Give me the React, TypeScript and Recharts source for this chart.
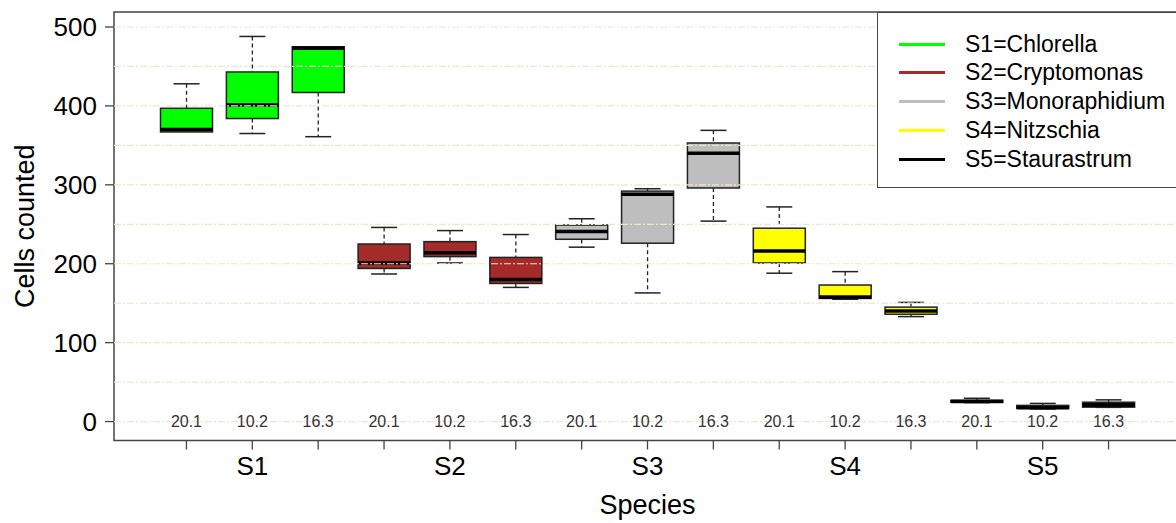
import React from 'react';
import { ComposedChart, XAxis, YAxis, Bar, Scatter, ReferenceLine, ReferenceArea } from 'recharts';

// box positions 1..15, three temperatures per species
const positions = [1, 2, 3, 4, 5, 6, 7, 8, 9, 10, 11, 12, 13, 14, 15];
const speciesCodes = ['S1', 'S2', 'S3', 'S4', 'S5'];
const temperatureLabels = ['20.1', '10.2', '16.3'];
const speciesColors = ['#00FF00', '#A52A2A', '#BEBEBE', '#FFFF00', '#000000'];
const legendLabels = ['S1=Chlorella', 'S2=Cryptomonas', 'S3=Monoraphidium', 'S4=Nitzschia', 'S5=Staurastrum'];

const whiskerLow = [367, 365, 361, 187, 201, 170, 221, 163, 254, 188, 155, 133, 24, 16, 18];
const lowerQuartile = [367, 384, 417, 194, 209, 175, 231, 226, 296, 201, 156, 136, 24.5, 16.8, 18.3];
const medians = [370, 401, 473, 201, 214, 180, 241, 288, 340, 216, 158, 140, 25.5, 17.5, 21];
const upperQuartile = [397, 443, 475, 225, 228, 208, 249, 292, 353, 245, 173, 145, 27, 20.5, 24.5];
const whiskerHigh = [428, 488, 475, 246, 242, 237, 257, 295, 369, 272, 190, 151, 29.5, 23, 27.5];

const yTicks = [0, 100, 200, 300, 400, 500];
const gridValues = [0, 50, 100, 150, 200, 250, 300, 350, 400, 450, 500];

const FONT = '"Liberation Sans", Arial, Helvetica, sans-serif';

const data = positions.map((pos, i) => ({
  pos,
  species: speciesCodes[Math.floor(i / 3)],
  temp: temperatureLabels[i % 3],
  fill: speciesColors[Math.floor(i / 3)],
  lo: whiskerLow[i],
  q1: lowerQuartile[i],
  med: medians[i],
  q3: upperQuartile[i],
  hi: whiskerHigh[i],
  zero: 0,
}));

const BoxShape = (props: any) => {
  const { x, y, width, height, payload } = props;
  if (!payload) return null;
  const top = Math.min(y, y + height);
  const h = Math.abs(height);
  // pixels per unit, taken from the bar's own q1..q3 extent
  const k = h / (payload.q3 - payload.q1);
  const py = (v: number) => top + (payload.q3 - v) * k;
  const cx = x + width / 2;
  const cap = width / 4;
  const bottom = top + h;
  return (
    <g>
      {payload.hi > payload.q3 && (
        <>
          <line x1={cx} x2={cx} y1={py(payload.hi)} y2={top} stroke="#222" strokeWidth={1.3} strokeDasharray="4 3" />
          <line x1={cx - cap} x2={cx + cap} y1={py(payload.hi)} y2={py(payload.hi)} stroke="#222" strokeWidth={1.5} />
        </>
      )}
      {payload.lo < payload.q1 && (
        <>
          <line x1={cx} x2={cx} y1={bottom} y2={py(payload.lo)} stroke="#222" strokeWidth={1.3} strokeDasharray="4 3" />
          <line x1={cx - cap} x2={cx + cap} y1={py(payload.lo)} y2={py(payload.lo)} stroke="#222" strokeWidth={1.5} />
        </>
      )}
      <rect x={x} y={top} width={width} height={h} fill={payload.fill} stroke="#222" strokeWidth={1.5} />
      <line x1={x} x2={x + width} y1={py(payload.med)} y2={py(payload.med)} stroke="#000" strokeWidth={3.5} />
    </g>
  );
};

const TempLabel = (props: any) => {
  const { cx, cy, payload } = props;
  return (
    <text x={cx} y={cy} textAnchor="middle" dominantBaseline="central" fontSize={16} fill="#333" fontFamily={FONT}>
      {payload.temp}
    </text>
  );
};

const App: React.FC = () => {
  return (
    <div style={{ position: 'absolute', left: 0, top: 0, width: 1176, height: 523, overflow: 'hidden', background: '#fff', fontFamily: FONT }}>
      <ComposedChart width={1190} height={523} data={data} margin={{ top: 12, right: 9, bottom: 0, left: 0 }}>
        <XAxis
          type="number"
          dataKey="pos"
          domain={[-0.1, 16.1]}
          ticks={positions}
          interval={0}
          tickFormatter={(v: number) => (v % 3 === 2 ? speciesCodes[(v - 2) / 3] : '')}
          tickSize={9}
          tickMargin={7}
          height={82.5}
          axisLine={false}
          tickLine={{ stroke: '#444', strokeWidth: 1.3 }}
          tick={{ fontSize: 26, fill: '#000', fontFamily: FONT }}
          label={{ value: 'Species', position: 'insideBottom', offset: 9, fontSize: 27, fill: '#000', fontFamily: FONT }}
        />
        <YAxis
          type="number"
          domain={[-24, 519]}
          ticks={yTicks}
          interval={0}
          width={114}
          tickSize={9}
          tickMargin={8}
          axisLine={false}
          tickLine={{ stroke: '#444', strokeWidth: 1.3 }}
          tick={{ fontSize: 26, fill: '#000', fontFamily: FONT }}
          label={{ value: 'Cells counted', angle: -90, position: 'insideLeft', offset: 24, fontSize: 27, fill: '#000', fontFamily: FONT, style: { textAnchor: 'middle' } }}
        />
        <Bar dataKey={(d: any) => [d.q1, d.q3]} barSize={52} shape={BoxShape} isAnimationActive={false} />
        {gridValues.map((v) => (
          <ReferenceLine key={v} y={v} stroke="#EDE6CF" strokeWidth={1.2} strokeDasharray="7 2 2 2" />
        ))}
        <Scatter dataKey="zero" shape={TempLabel} isAnimationActive={false} />
        <ReferenceArea x1={-0.1} x2={16.1} y1={-24} y2={519} fill="none" stroke="#444" strokeWidth={1.5} ifOverflow="visible" />
      </ComposedChart>
      <div
        style={{
          position: 'absolute',
          left: 877,
          top: 12,
          width: 320,
          height: 176,
          boxSizing: 'border-box',
          border: '1.5px solid #444',
          background: '#fff',
        }}
      >
        {legendLabels.map((label, i) => (
          <div
            key={label}
            style={{ position: 'absolute', left: 0, top: 17 + i * 28.75, height: 28, display: 'flex', alignItems: 'center' }}
          >
            <div style={{ width: 46, height: 3, background: speciesColors[i], marginLeft: 21 }} />
            <span style={{ marginLeft: 20, fontSize: 23, color: '#000', fontFamily: FONT, whiteSpace: 'nowrap' }}>{label}</span>
          </div>
        ))}
      </div>
    </div>
  );
};

export default App;
